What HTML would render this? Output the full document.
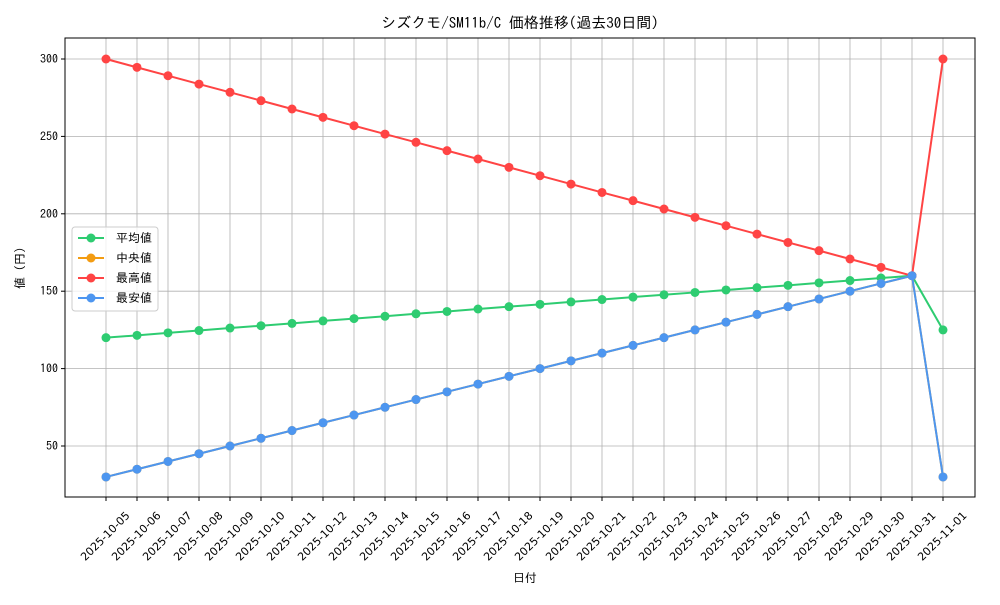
<!DOCTYPE html>
<html><head><meta charset="utf-8"><style>
body{margin:0;background:#fff}
svg{font-family:"IPAGothic","Liberation Sans",sans-serif}
</style></head><body>
<svg id="c" width="1000" height="600"></svg>
<script>
const dates=["2025-10-05","2025-10-06","2025-10-07","2025-10-08","2025-10-09","2025-10-10","2025-10-11","2025-10-12","2025-10-13","2025-10-14","2025-10-15","2025-10-16","2025-10-17","2025-10-18","2025-10-19","2025-10-20","2025-10-21","2025-10-22","2025-10-23","2025-10-24","2025-10-25","2025-10-26","2025-10-27","2025-10-28","2025-10-29","2025-10-30","2025-10-31","2025-11-01"];
const avgVals=[120,121.5,123.1,124.6,126.2,127.7,129.2,130.8,132.3,133.8,135.4,136.9,138.5,140,141.5,143.1,144.6,146.2,147.7,149.2,150.8,152.3,153.8,155.4,156.9,158.5,160,125];
const medVals=[30,35,40,45,50,55,60,65,70,75,80,85,90,95,100,105,110,115,120,125,130,135,140,145,150,155,160,30];
const maxVals=[300,294.6,289.2,283.8,278.5,273.1,267.7,262.3,256.9,251.5,246.2,240.8,235.4,230,224.6,219.2,213.8,208.5,203.1,197.7,192.3,186.9,181.5,176.2,170.8,165.4,160,300];
const minVals=[30,35,40,45,50,55,60,65,70,75,80,85,90,95,100,105,110,115,120,125,130,135,140,145,150,155,160,30];
const yTicks=[50,100,150,200,250,300];
const seriesNames=["平均値","中央値","最高値","最安値"];
const colors=["#2ecc71","#f39c12","#ff4444","#4d96f0"];
const L=65,R=975,T=38,B=497;
const xs=i=>106+i*(943-106)/(dates.length-1);
const ys=v=>59+(300-v)*(446-59)/250;
const svg=document.getElementById('c');
const NS="http://www.w3.org/2000/svg";
function mk(t,a,p){const e=document.createElementNS(NS,t);for(const k in a)e.setAttribute(k,a[k]);(p||svg).appendChild(e);return e;}
dates.forEach((d,i)=>{
 const g=mk('line',{x1:xs(i),x2:xs(i),y1:T,y2:B,stroke:'#b0b0b0','stroke-width':0.8});
 
 
 mk('line',{x1:xs(i),x2:xs(i),y1:B,y2:B+4,stroke:'#000'});
 const t=mk('text',{x:0,y:4,'font-size':11,'text-anchor':'middle','font-family':'"DejaVu Sans","Liberation Sans",sans-serif',transform:`translate(${xs(i)-1},${B+39}) rotate(-45)`});
 t.textContent=d;
 
 
});
yTicks.forEach(v=>{
 const g=mk('line',{x1:L,x2:R,y1:ys(v),y2:ys(v),stroke:'#b0b0b0','stroke-width':0.8});
 
 
 mk('line',{x1:L-4,x2:L,y1:ys(v),y2:ys(v),stroke:'#000'});
 const t=mk('text',{x:L-7,y:ys(v)+4,'font-size':12,'text-anchor':'end'});
 t.textContent=v;
 
 
});
const fr=mk('rect',{x:L,y:T,width:R-L,height:B-T,fill:'none',stroke:'#000','stroke-width':1});


[avgVals,medVals,maxVals,minVals].forEach((vals,s)=>{
 const g=mk('g',{});
 
 
 mk('polyline',{points:vals.map((v,i)=>xs(i)+','+ys(v)).join(' '),fill:'none',stroke:colors[s],'stroke-width':2},g);
 vals.forEach((v,i)=>{
  const c=mk('circle',{cx:xs(i),cy:ys(v),r:4.5,fill:colors[s]},g);
  
  
 });
});
const lg=mk('g',{});


mk('rect',{x:72,y:227,width:86,height:84,rx:3,fill:'#fff','fill-opacity':0.8,stroke:'#ccc'},lg);
seriesNames.forEach((n,s)=>{
 const y=238+s*20;
 const e=mk('g',{},lg);
 
 
 mk('line',{x1:78,x2:104,y1:y,y2:y,stroke:colors[s],'stroke-width':2},e);
 mk('circle',{cx:91,cy:y,r:4.5,fill:colors[s]},e);
 const t=mk('text',{x:116,y:y+4,'font-size':12},e);t.textContent=n;
});
const ti=mk('text',{x:520,y:28,'font-size':15,'text-anchor':'middle'});ti.textContent="シズクモ/SM11b/C 価格推移(過去30日間)";

const xl=mk('text',{x:525,y:582,'font-size':12,'text-anchor':'middle'});xl.textContent="日付";

const yl=mk('text',{x:0,y:0,'font-size':12,'text-anchor':'middle',transform:'translate(24,268) rotate(-90)'});yl.textContent="値 (円)";

</script>
</body></html>
